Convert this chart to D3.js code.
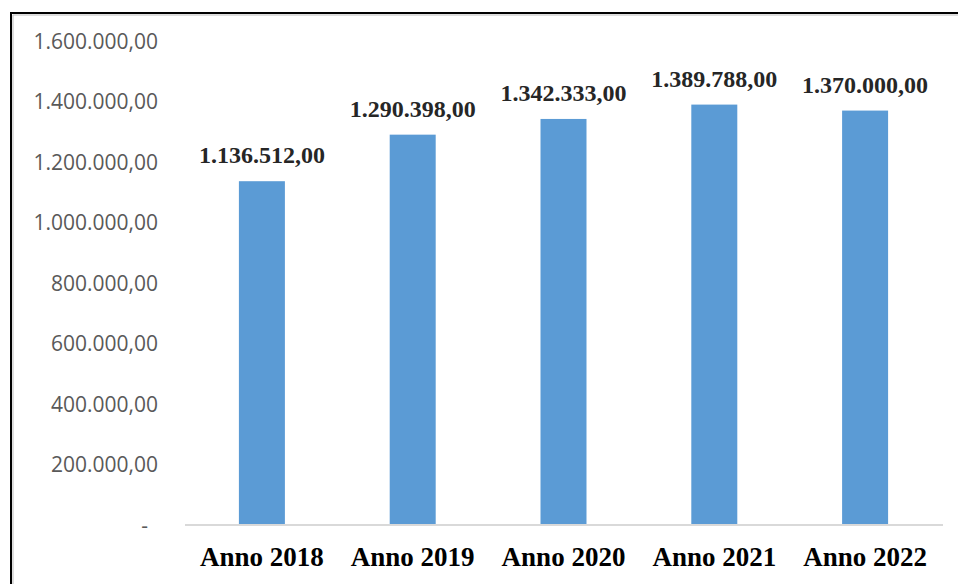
<!DOCTYPE html>
<html>
<head>
<meta charset="utf-8">
<script src="https://cdn.jsdelivr.net/npm/d3@7"></script>
<style>
  body { margin: 0; background: #fff; }
  svg { display: block; }
</style>
</head>
<body>
<div id="chart"></div>
<script>
// Width and height
var w = 958;
var h = 584;

// chart data
var years = ["Anno 2018", "Anno 2019", "Anno 2020", "Anno 2021", "Anno 2022"];
var values = [1136512, 1290398, 1342333, 1389788, 1370000];
var yTicks = [0, 200000, 400000, 600000, 800000, 1000000, 1200000, 1400000, 1600000];

// italian number format: 1.234.567,00
var it = d3.formatLocale({ decimal: ",", thousands: ".", grouping: [3], currency: ["€", ""] });
var fmt = it.format(",.2f");
function label(v) { return v === 0 ? "-" : fmt(v); }

var x = d3.scaleBand()
  .domain(years)
  .range([186.5, 940.5])
  .paddingInner(0.695)
  .paddingOuter(0.3475);

var y = d3.scaleLinear()
  .domain([0, 1600000])
  .range([525, 41]);

var svg = d3.select("#chart")
  .append("svg")
  .attr("width", w)
  .attr("height", h);

// frame around the chart (runs off right and bottom)
svg.append("path")
  .attr("d", "M11,600 L11,13 L970,13")
  .attr("fill", "none")
  .attr("stroke", "#000")
  .attr("stroke-width", 2);
svg.append("path")
  .attr("d", "M13,600 L13,15 L970,15")
  .attr("fill", "none")
  .attr("stroke", "#bbb")
  .attr("stroke-width", 1);

// y axis labels only
var yAxis = d3.axisLeft(y)
  .tickValues(yTicks)
  .tickSize(0)
  .tickPadding(0)
  .tickFormat(label);

var gy = svg.append("g")
  .attr("transform", "translate(158,0)")
  .call(yAxis);
gy.select(".domain").remove();
gy.selectAll("text")
  .attr("font-family", "'Open Sans', sans-serif")
  .attr("font-size", "21px")
  .attr("fill", "#595959")
  .attr("dy", "0.35em");
gy.selectAll("text").filter(function(d) { return d === 0; })
  .attr("transform", "translate(-10,0)");

// bars
svg.selectAll(".bar")
  .data(values)
  .enter()
  .append("rect")
  .attr("class", "bar")
  .attr("x", function(d, i) { return x(years[i]); })
  .attr("y", function(d) { return y(d); })
  .attr("width", x.bandwidth())
  .attr("height", function(d) { return y(0) - y(d); })
  .attr("fill", "#5b9bd5");

// baseline
var xAxis = d3.axisBottom(x)
  .tickSize(0)
  .tickPadding(0);

var gx = svg.append("g")
  .attr("transform", "translate(0," + y(0) + ")")
  .call(xAxis);
gx.select(".domain")
  .attr("stroke", "#d9d9d9")
  .attr("stroke-width", 2)
  .attr("d", "M185,0H943");
gx.selectAll("text")
  .attr("font-family", "'Liberation Serif', 'Times New Roman', serif")
  .attr("font-weight", "bold")
  .attr("font-size", "27px")
  .attr("fill", "#000")
  .attr("y", 41)
  .attr("dy", 0);

// value labels
svg.selectAll(".val")
  .data(values)
  .enter()
  .append("text")
  .attr("class", "val")
  .attr("x", function(d, i) { return x(years[i]) + x.bandwidth() / 2; })
  .attr("y", function(d) { return y(d) - 18; })
  .attr("text-anchor", "middle")
  .attr("font-family", "'Liberation Serif', 'Times New Roman', serif")
  .attr("font-weight", "bold")
  .attr("font-size", "24px")
  .attr("fill", "#262626")
  .text(function(d) { return fmt(d); });
</script>
</body>
</html>
